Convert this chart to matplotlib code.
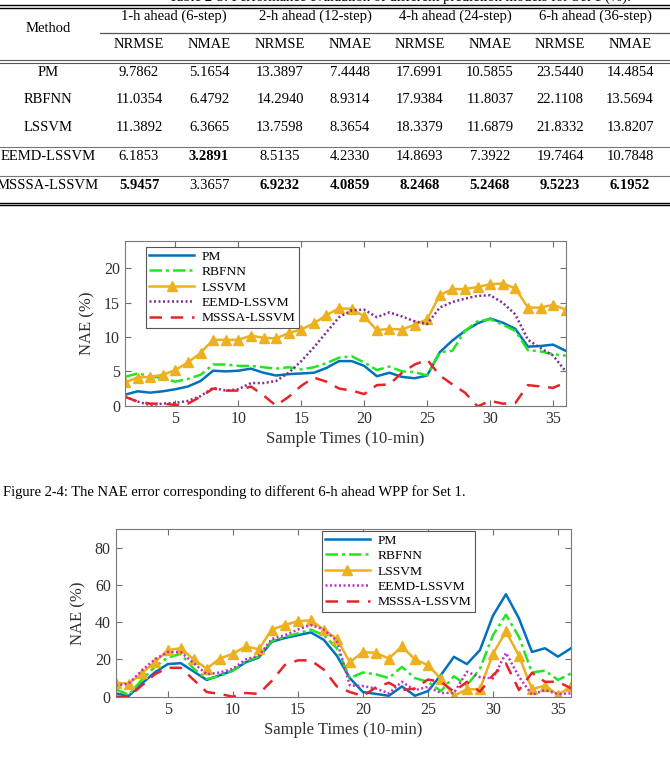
import numpy as np
import matplotlib.pyplot as plt

plt.rcParams['font.family'] = ['Liberation Serif', 'DejaVu Serif']

# ---- table data ----
methods = ['PM', 'RBFNN', 'LSSVM', 'EEMD-LSSVM', 'MSSSA-LSSVM']
horizons = ['1-h ahead (6-step)', '2-h ahead (12-step)', '4-h ahead (24-step)', '6-h ahead (36-step)']
metrics = ['NRMSE', 'NMAE']
nrmse = [[9.7862, 13.3897, 17.6991, 23.5440],
         [11.0354, 14.2940, 17.9384, 22.1108],
         [11.3892, 13.7598, 18.3379, 21.8332],
         [6.1853, 8.5135, 14.8693, 19.7464],
         [5.9457, 6.9232, 8.2468, 9.5223]]
nmae = [[5.1654, 7.4448, 10.5855, 14.4854],
        [6.4792, 8.9314, 11.8037, 13.5694],
        [6.3665, 8.3654, 11.6879, 13.8207],
        [3.2891, 4.2330, 7.3922, 10.7848],
        [3.3657, 4.0859, 5.2468, 6.1952]]

# ---- figure 2-4 (top chart) ----
x = np.arange(1, 37)
pm_1 = [1.6, 2.1, 1.9, 2.1, 2.4, 2.8, 3.6, 5.1, 5.0, 5.1, 5.4, 4.8, 4.4, 4.6, 4.7, 4.8, 5.5, 6.5,
        6.5, 5.8, 4.3, 4.8, 4.2, 4.0, 4.4, 7.8, 9.5, 10.9, 12.0, 12.7, 12.1, 11.2, 8.6, 8.7, 8.9, 8.0]
rbf_1 = [4.2, 4.7, 4.3, 4.0, 3.5, 3.9, 4.5, 6.0, 6.0, 5.8, 5.8, 5.6, 5.4, 5.6, 5.3, 5.6, 6.2, 7.0,
         7.2, 6.3, 5.2, 5.7, 5.0, 4.9, 4.4, 7.8, 8.0, 10.9, 12.3, 12.6, 11.8, 10.9, 8.1, 7.9, 7.5, 7.3]
lssvm_1 = [3.4, 4.1, 4.2, 4.5, 5.2, 6.3, 7.7, 9.6, 9.6, 9.6, 10.2, 9.9, 9.8, 10.6, 11.1, 12.0, 13.2, 14.2,
           14.1, 13.0, 11.0, 11.2, 11.1, 11.8, 12.6, 16.1, 17.0, 17.0, 17.3, 17.7, 17.8, 17.1, 14.3, 14.3, 14.7, 14.0]
eemd_1 = [1.3, 0.6, 0.1, 0.3, 0.4, 0.7, 1.4, 2.6, 2.2, 2.4, 3.3, 3.3, 3.6, 4.8, 6.5, 8.5, 10.7, 12.9,
          13.9, 14.0, 12.9, 13.6, 13.0, 12.3, 11.9, 14.3, 15.1, 15.6, 16.0, 16.1, 15.0, 13.3, 9.6, 8.4, 7.3, 5.0]
msssa_1 = [1.3, 0.6, 0.3, 0.3, 0.1, 0.3, 1.3, 2.5, 2.2, 2.2, 2.8, 1.5, 0.0, 1.3, 2.9, 4.1, 3.5, 2.5,
           2.2, 1.7, 3.0, 3.1, 4.8, 6.0, 6.7, 4.4, 3.1, 1.9, -0.1, 0.7, 0.3, 0.4, 3.0, 2.8, 2.6, 3.4]

# ---- bottom chart ----
pm_2 = [1.8, 0.4, 7, 13, 17.5, 18, 13.5, 9, 11.5, 14, 18.5, 21, 29.5, 31.5, 33, 34.5, 30.5, 22,
        10, 2.5, 1.5, 0.5, 5.5, 0.5, 3, 11.6, 21.4, 17.5, 25, 43.5, 55, 42, 24, 26, 21.5, 26]
rbf_2 = [4, 1, 9, 16, 21, 23, 15, 9.5, 11, 14, 19, 21.5, 30, 32, 34, 36, 33, 26,
         10, 13, 12, 10, 16, 10, 8, 3, 11, 6, 15, 33, 44, 32, 13, 14, 9, 12.5]
lssvm_2 = [7.5, 7, 12.5, 18.5, 25, 26, 20, 15, 20.5, 23, 27, 25.5, 36, 38.5, 40.5, 41, 36, 31,
           18.5, 24, 23.5, 20.5, 27, 20, 17, 9.5, 0.5, 4, 4, 23, 35, 22, 4, 6, 1, 5.5]
eemd_2 = [6, 7, 14, 20, 24, 24, 18, 12, 13, 15, 20, 22, 31, 33, 36, 38.5, 36, 30,
          6, 5.7, 4.4, 1.8, 8, 3.5, 5.3, 2, 2, 13.4, 10.5, 9.8, 23.5, 10.7, 1, 3.6, 1.4, 1.8]
msssa_2 = [0, 0, 6, 12, 15.5, 15.5, 9, 2.5, 1.5, 0, 2, 1.5, 8.5, 17, 19.5, 19.5, 14.5, 5.5,
           2.5, 0.4, 5, 7.5, 3.5, 4.4, 9.2, 8, 2.7, 8, 2.7, 11.6, 17.8, 3.6, 12.8, 8, 8, 4.5]

caption = 'Figure 2-4: The NAE error corresponding to different 6-h ahead WPP for Set 1.'


def draw_table(fig):
    ax = fig.add_axes([0, 1 - 210 / 760, 1, 210 / 760])
    ax.set_xlim(0, 670)
    ax.set_ylim(210, 0)
    ax.axis('off')
    fs = 10.5
    # title row sits mostly above the crop, only its lower half shows
    ax.text(400, -3, 'Table 2-3: Performance evaluation of different prediction models for Set 1 (%).',
            ha='center', va='center', fontsize=fs, clip_on=False)

    ax.plot([0, 670], [5, 5], color='black', lw=1.0)
    ax.plot([0, 670], [7.5, 7.5], color='black', lw=1.0)
    ax.plot([100, 670], [33, 33], color='#555555', lw=0.9)
    ax.plot([0, 670], [60, 60], color='#555555', lw=0.8)
    ax.plot([0, 670], [62.5, 62.5], color='#555555', lw=0.8)
    ax.plot([0, 670], [147, 147], color='#777777', lw=0.8)
    ax.plot([0, 670], [176, 176], color='#777777', lw=0.8)
    ax.plot([0, 670], [202.5, 202.5], color='black', lw=1.0)
    ax.plot([0, 670], [205, 205], color='black', lw=1.0)

    group_x = [174, 315, 455, 595]
    ax.text(48, 28, 'Method', ha='center', va='center', fontsize=fs)
    for gx, h in zip(group_x, horizons):
        ax.text(gx, 16, h, ha='center', va='center', fontsize=fs)
        ax.text(gx - 35, 44, metrics[0], ha='center', va='center', fontsize=fs)
        ax.text(gx + 35, 44, metrics[1], ha='center', va='center', fontsize=fs)

    row_y = [72, 99, 127, 156, 185]
    best_rmse = np.min(nrmse, axis=0)
    best_mae = np.min(nmae, axis=0)
    for i, m in enumerate(methods):
        ax.text(48, row_y[i], m, ha='center', va='center', fontsize=fs)
        for j, gx in enumerate(group_x):
            v1, v2 = nrmse[i][j], nmae[i][j]
            ax.text(gx - 35, row_y[i], f'{v1:.4f}', ha='center', va='center', fontsize=fs,
                    fontweight='bold' if v1 == best_rmse[j] else 'normal')
            ax.text(gx + 35, row_y[i], f'{v2:.4f}', ha='center', va='center', fontsize=fs,
                    fontweight='bold' if v2 == best_mae[j] else 'normal')


def draw_chart(ax, series, ylim, yticks, eemd_color, legend_anchor):
    pm, rbf, lssvm, eemd, msssa = series
    ax.plot(x, pm, color='#0072BD', lw=1.8, label='PM')
    ax.plot(x, rbf, color='#22E622', lw=1.8, ls=(0, (5, 1.6, 1.2, 1.6)), label='RBFNN')
    ax.plot(x, lssvm, color='#EDB120', lw=1.8, marker='^', markersize=6.5, label='LSSVM')
    ax.plot(x, eemd, color=eemd_color, lw=1.8, ls=(0, (0.8, 1.0)), label='EEMD-LSSVM')
    ax.plot(x, msssa, color='#E8242A', lw=1.8, ls=(0, (5, 3.5)), label='MSSSA-LSSVM')
    ax.set_xlim(1, 36)
    ax.set_ylim(*ylim)
    ax.set_xticks([5, 10, 15, 20, 25, 30, 35])
    ax.set_yticks(yticks)
    ax.tick_params(direction='in', top=True, right=True, labelsize=11.5, colors='#6e6e6e',
                   labelcolor='#303030', length=4)
    for s in ax.spines.values():
        s.set_color('#7a7a7a')
        s.set_linewidth(0.8)
    ax.set_xlabel('Sample Times (10-min)', fontsize=12, color='#303030', labelpad=3)
    ax.set_ylabel('NAE (%)', fontsize=12, color='#303030', labelpad=6)
    leg = ax.legend(loc='upper left', bbox_to_anchor=legend_anchor, fontsize=9.7,
                    handlelength=3.3, fancybox=False, framealpha=1, edgecolor='#555555',
                    borderpad=0.25, labelspacing=0.22, handletextpad=0.6, borderaxespad=0)
    leg.get_frame().set_linewidth(0.8)


fig = plt.figure(figsize=(6.7, 7.6), dpi=100)
draw_table(fig)

ax1 = fig.add_axes([125 / 670, 1 - 405.7 / 760, 440.7 / 670, 164.7 / 760])
draw_chart(ax1, (pm_1, rbf_1, lssvm_1, eemd_1, msssa_1), (0, 24), [0, 5, 10, 15, 20],
           '#7E2F8E', (21 / 440.7, 1 - 6 / 164.7))

fig.text(3 / 670, 1 - 492 / 760, caption, ha='left', va='center', fontsize=10.5)

ax2 = fig.add_axes([115.7 / 670, 1 - 696.7 / 760, 455.3 / 670, 167.7 / 760])
draw_chart(ax2, (pm_2, rbf_2, lssvm_2, eemd_2, msssa_2), (0, 90), [0, 20, 40, 60, 80],
           '#C030C8', (206 / 455.3, 1 - 2 / 167.7))

fig.savefig('out.png', dpi=100)
